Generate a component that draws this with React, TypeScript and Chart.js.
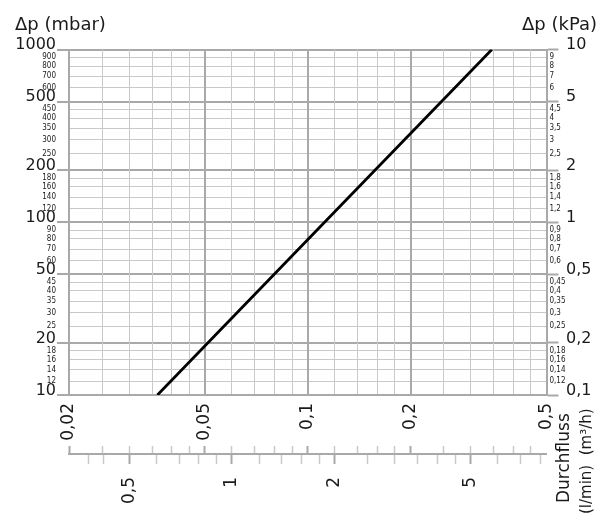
import { useEffect, useRef } from 'react';
import { Chart, registerables } from 'chart.js';

Chart.register(...registerables);

// ---- data ----
const flowM3h = [0.0363, 0.112, 0.346]; // Durchfluss (m³/h)
const pressureMbar = [10, 100, 1000]; // Δp (mbar)

// ---- axis ticks ----
const mbarMajor = [10, 20, 50, 100, 200, 500, 1000];
const mbarMinor = [12, 14, 16, 18, 25, 30, 35, 40, 45, 60, 70, 80, 90, 120, 140, 160, 180, 250, 300, 350, 400, 450, 600, 700, 800, 900];
const kpaMajor = [0.1, 0.2, 0.5, 1, 2, 5, 10];
const kpaMinor = [0.12, 0.14, 0.16, 0.18, 0.25, 0.3, 0.35, 0.4, 0.45, 0.6, 0.7, 0.8, 0.9, 1.2, 1.4, 1.6, 1.8, 2.5, 3, 3.5, 4, 4.5, 6, 7, 8, 9];
const m3hMajor = [0.02, 0.05, 0.1, 0.2, 0.5];
const m3hMinor = [0.025, 0.03, 0.035, 0.04, 0.045, 0.06, 0.07, 0.08, 0.09, 0.12, 0.14, 0.16, 0.18, 0.25, 0.3, 0.35, 0.4, 0.45];
const lminMajor = [0.5, 1, 2, 5];
const lminMinor = [0.38, 0.42, 0.6, 0.7, 0.8, 0.9, 1.2, 1.4, 1.6, 1.8, 2.5, 3, 3.5, 4, 4.5, 6, 7, 8];
const M3H_TO_LMIN = 1000 / 60;

const titleLeft = 'Δp (mbar)';
const titleRight = 'Δp (kPa)';
const flowTitle = 'Durchfluss';
const flowUnits = '(l/min)  (m³/h)';

const SANS = "'DejaVu Sans', sans-serif";
const NARROW = "'Liberation Sans Narrow', 'DejaVu Sans Condensed', 'Liberation Sans', sans-serif";
const TEXT = '#1a1a1a';
const MAJOR = '#a9a9a9';
const MINOR = '#c9c9c9';
const CLEAR = 'rgba(0,0,0,0)';

const has = (list: number[], v: number) => list.some((x) => Math.abs(x - v) / x < 1e-6);
const fmt = (v: number) => String(Math.round(v * 1000) / 1000).replace('.', ',');
const sorted = (a: number[], b: number[]) => [...a, ...b].sort((p, q) => p - q);
const setTicks = (values: number[]) => (s: any) => {
  s.ticks = values.map((value) => ({ value }));
};

const textPlugin = {
  id: 'extraTexts',
  afterDraw(chart: any) {
    const { ctx, chartArea } = chart;
    ctx.save();
    ctx.fillStyle = TEXT;
    ctx.font = `18px ${SANS}`;
    ctx.textBaseline = 'alphabetic';
    ctx.textAlign = 'left';
    ctx.fillText(titleLeft, 15, 30);
    ctx.textAlign = 'right';
    ctx.fillText(titleRight, 597, 30);

    ctx.textAlign = 'left';
    ctx.save();
    ctx.translate(chartArea.right + 22, chartArea.bottom + 108);
    ctx.rotate(-Math.PI / 2);
    ctx.font = `17px ${SANS}`;
    ctx.fillText(flowTitle, 0, 0);
    ctx.restore();

    ctx.save();
    ctx.translate(chartArea.right + 44, chartArea.bottom + 119);
    ctx.rotate(-Math.PI / 2);
    ctx.font = `15px ${SANS}`;
    ctx.fillText(flowUnits, 0, 0);
    ctx.restore();
    ctx.restore();
  },
};

export default function App() {
  const ref = useRef<HTMLCanvasElement | null>(null);

  useEffect(() => {
    if (!ref.current) return;
    const mbarAll = sorted(mbarMajor, mbarMinor);
    const kpaAll = sorted(kpaMajor, kpaMinor);
    const m3hAll = sorted(m3hMajor, m3hMinor);
    const lminAll = sorted(lminMajor, lminMinor);

    const chart = new Chart(ref.current, {
      type: 'line',
      data: {
        datasets: [
          {
            data: flowM3h.map((x, i) => ({ x, y: pressureMbar[i] })),
            borderColor: '#000',
            borderWidth: 2.8,
            pointRadius: 0,
            xAxisID: 'x',
            yAxisID: 'y',
          },
        ],
      },
      options: {
        responsive: false,
        animation: false,
        events: [],
        layout: { padding: { top: 49.5, left: 0, right: 0, bottom: 0 } },
        plugins: { legend: { display: false }, tooltip: { enabled: false } },
        scales: {
          y: {
            type: 'logarithmic',
            position: 'left',
            bounds: 'data',
            min: 10,
            max: 1000,
            afterBuildTicks: setTicks(mbarAll),
            afterFit: (s: any) => { s.width = 69; },
            border: { display: true, color: MAJOR, width: 2 },
            grid: {
              color: (c: any) => (has(mbarMajor, c.tick?.value) ? MAJOR : MINOR),
              lineWidth: (c: any) => (has(mbarMajor, c.tick?.value) ? 2 : 1),
              drawTicks: true,
              tickLength: 12,
              tickColor: (c: any) => (has(mbarMajor, c.tick?.value) ? MAJOR : CLEAR),
              tickWidth: 2,
            },
            ticks: {
              autoSkip: false,
              padding: 1,
              color: TEXT,
              font: (c: any) =>
                has(mbarMajor, c.tick?.value)
                  ? { family: SANS, size: 16, lineHeight: '9px' }
                  : { family: NARROW, size: 8, lineHeight: 1 },
              callback: (v: any) => (has(mbarMajor, Number(v)) ? [fmt(Number(v)), ''] : fmt(Number(v))),
            },
          },
          y2: {
            type: 'logarithmic',
            position: 'right',
            bounds: 'data',
            min: 0.1,
            max: 10,
            afterBuildTicks: setTicks(kpaAll),
            afterFit: (s: any) => { s.width = 19.5; },
            border: { display: true, color: MAJOR, width: 2 },
            grid: {
              drawOnChartArea: false,
              drawTicks: true,
              tickLength: 12,
              tickColor: (c: any) => (has(kpaMajor, c.tick?.value) ? MAJOR : CLEAR),
              tickWidth: 2,
            },
            ticks: {
              autoSkip: false,
              padding: -9,
              color: TEXT,
              font: { family: NARROW, size: 8, lineHeight: 1 },
              callback: (v: any) => (has(kpaMajor, Number(v)) ? '' : fmt(Number(v))),
            },
          },
          y3: {
            type: 'logarithmic',
            position: 'right',
            bounds: 'data',
            weight: 1,
            min: 0.1,
            max: 10,
            afterBuildTicks: setTicks(kpaMajor),
            afterFit: (s: any) => { s.width = 39; },
            border: { display: false },
            grid: { drawOnChartArea: false, drawTicks: false },
            ticks: {
              autoSkip: false,
              padding: 0,
              color: TEXT,
              font: { family: SANS, size: 16, lineHeight: '9px' },
              callback: (v: any) => [fmt(Number(v)), ''],
            },
          },
          x: {
            type: 'logarithmic',
            position: 'bottom',
            bounds: 'data',
            min: 0.02,
            max: 0.5,
            afterBuildTicks: setTicks(m3hAll),
            afterFit: (s: any) => { s.height = 51; },
            border: { display: true, color: MAJOR, width: 2 },
            grid: {
              color: (c: any) => (has(m3hMajor, c.tick?.value) ? MAJOR : MINOR),
              lineWidth: (c: any) => (has(m3hMajor, c.tick?.value) ? 2 : 1),
              drawTicks: false,
            },
            ticks: {
              autoSkip: false,
              minRotation: 90,
              maxRotation: 90,
              padding: 8,
              color: TEXT,
              font: { family: SANS, size: 17 },
              callback: (v: any) => (has(m3hMajor, Number(v)) ? fmt(Number(v)) : ''),
            },
          },
          x3: {
            type: 'logarithmic',
            position: 'bottom',
            bounds: 'data',
            weight: 1,
            min: 0.02,
            max: 0.5,
            afterBuildTicks: setTicks(m3hAll.filter((v) => v < 0.5)),
            afterFit: (s: any) => { s.height = 8; },
            border: { display: false },
            grid: {
              drawOnChartArea: false,
              drawTicks: true,
              tickLength: 8,
              tickColor: (c: any) => (has(m3hMajor, c.tick?.value) ? MAJOR : MINOR),
              tickWidth: (c: any) => (has(m3hMajor, c.tick?.value) ? 2 : 1.5),
            },
            ticks: { display: false, autoSkip: false },
          },
          x2: {
            type: 'logarithmic',
            position: 'bottom',
            bounds: 'data',
            weight: 2,
            min: 0.02 * M3H_TO_LMIN,
            max: 0.5 * M3H_TO_LMIN,
            afterBuildTicks: setTicks(lminAll),
            afterFit: (s: any) => { s.height = 64; },
            border: { display: true, color: MAJOR, width: 2 },
            grid: {
              drawOnChartArea: false,
              drawTicks: true,
              tickLength: 10,
              tickColor: (c: any) => (has(lminMajor, c.tick?.value) ? MAJOR : MINOR),
              tickWidth: (c: any) => (has(lminMajor, c.tick?.value) ? 2 : 1.5),
            },
            ticks: {
              autoSkip: false,
              minRotation: 90,
              maxRotation: 90,
              padding: 13,
              color: TEXT,
              font: { family: SANS, size: 17 },
              callback: (v: any) => (has(lminMajor, Number(v)) ? fmt(Number(v)) : ''),
            },
          },
        },
      } as any,
      plugins: [textPlugin],
    });
    return () => chart.destroy();
  }, []);

  return (
    <div style={{ position: 'fixed', left: 0, top: 0, width: 605, height: 518, background: '#fff' }}>
      <canvas ref={ref} width={605} height={518} style={{ display: 'block' }} />
    </div>
  );
}
